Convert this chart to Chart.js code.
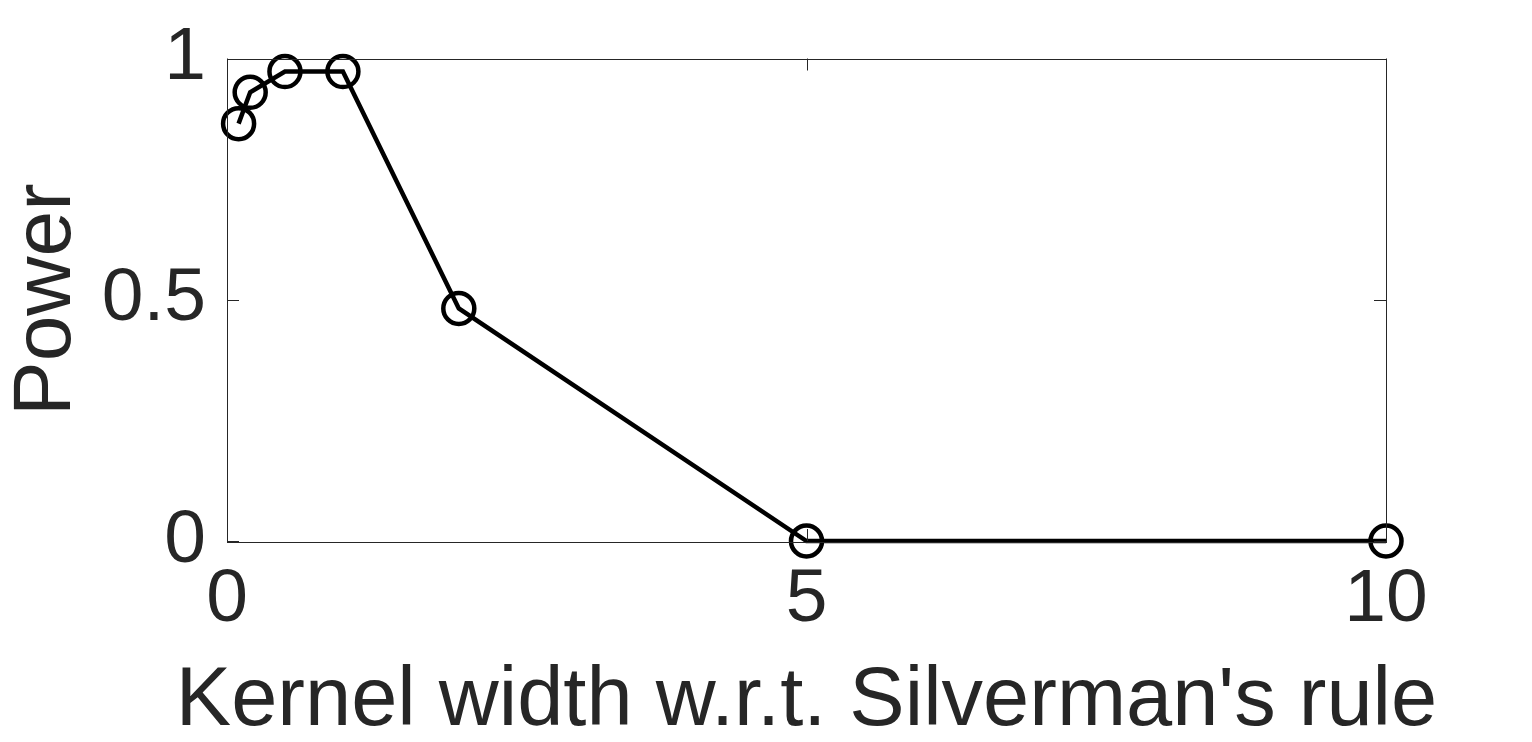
<!DOCTYPE html>
<html>
<head>
<meta charset="utf-8">
<script src="https://cdn.jsdelivr.net/npm/chart.js@4/dist/chart.umd.min.js"></script>
<style>
html,body{margin:0;padding:0;background:#fff;}
#wrap{width:1532px;height:742px;}
</style>
</head>
<body>
<div id="wrap"><canvas id="c" width="1532" height="742"></canvas></div>
<script>
const kernelWidths = [0.1, 0.2, 0.5, 1, 2, 5, 10];
const powerValues = [0.865, 0.93, 0.973, 0.973, 0.482, 0, 0];
const xTickValues = [0, 5, 10];
const yTickValues = [0, 0.5, 1];
const xTitle = "Kernel width w.r.t. Silverman's rule";
const yTitle = "Power";

const AX = '#262626';
const FONT = "'Liberation Sans', Arial, Helvetica, sans-serif";

const framePlugin = {
  id: 'frame',
  afterDatasetsDraw(chart) {
    const {ctx, chartArea: a, scales: {x, y}} = chart;
    ctx.save();
    ctx.strokeStyle = AX;
    ctx.lineWidth = 1;
    ctx.strokeRect(Math.round(a.left) + 0.5, Math.round(a.top) + 0.5,
      Math.round(a.right - a.left), Math.round(a.bottom - a.top));
    const tl = 12;
    ctx.beginPath();
    y.ticks.forEach(t => {
      const py = Math.round(y.getPixelForValue(t.value)) + 0.5;
      ctx.moveTo(a.left, py); ctx.lineTo(a.left + tl, py);
      ctx.moveTo(a.right, py); ctx.lineTo(a.right - tl, py);
    });
    x.ticks.forEach(t => {
      const px = Math.round(x.getPixelForValue(t.value)) + 0.5;
      ctx.moveTo(px, a.bottom); ctx.lineTo(px, a.bottom - tl);
      ctx.moveTo(px, a.top); ctx.lineTo(px, a.top + tl);
    });
    ctx.stroke();
    // x-axis title (drawn without width compression)
    ctx.fillStyle = AX;
    ctx.font = "83px " + FONT;
    ctx.textAlign = 'center';
    ctx.textBaseline = 'alphabetic';
    ctx.fillText(xTitle, (a.left + a.right) / 2, 725);
    ctx.restore();
  }
};

new Chart(document.getElementById('c'), {
  type: 'line',
  data: {
    datasets: [{
      data: kernelWidths.map((k, i) => ({x: k, y: powerValues[i]})),
      borderColor: '#000',
      borderWidth: 4.5,
      pointStyle: 'circle',
      pointRadius: 15.5,
      pointBorderWidth: 4.5,
      pointBorderColor: '#000',
      pointBackgroundColor: 'rgba(0,0,0,0)',
      tension: 0,
      fill: false,
      clip: false
    }]
  },
  options: {
    responsive: false,
    animation: false,
    devicePixelRatio: 1,
    layout: {padding: {left: 0, right: 146, top: 56, bottom: 0}},
    plugins: {legend: {display: false}, tooltip: {enabled: false}},
    scales: {
      x: {
        type: 'linear',
        min: 0, max: 10,
        afterBuildTicks(s) { s.ticks = xTickValues.map(v => ({value: v})); },
        afterFit(s) { s.height = 201; },
        grid: {display: false, drawTicks: false},
        border: {display: false},
        ticks: {
          color: AX, padding: 22, maxRotation: 0, autoSkip: false,
          callback: v => String(v),
          font: {family: FONT, size: 75, lineHeight: 1}
        },
        title: {display: false}
      },
      y: {
        type: 'linear',
        min: 0, max: 1,
        afterBuildTicks(s) { s.ticks = yTickValues.map(v => ({value: v})); },
        afterFit(s) { s.width = 227; },
        grid: {display: false, drawTicks: false},
        border: {display: false},
        ticks: {
          color: AX, padding: 21, autoSkip: false,
          callback: v => String(v),
          font: {family: FONT, size: 75, lineHeight: 1}
        },
        title: {
          display: true, text: yTitle, color: AX,
          font: {family: FONT, size: 82, lineHeight: 1},
          padding: {top: 6, bottom: 0}
        }
      }
    }
  },
  plugins: [framePlugin]
});
</script>
</body>
</html>
